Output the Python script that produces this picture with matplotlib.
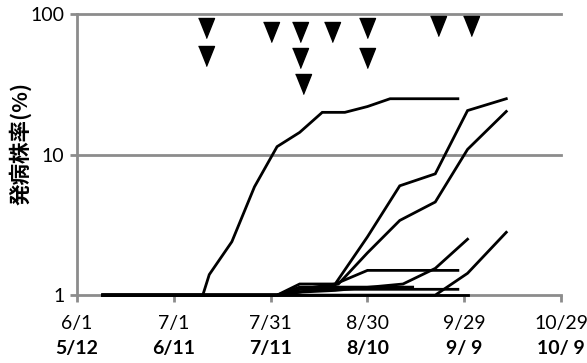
import matplotlib
matplotlib.use("Agg")
import matplotlib.pyplot as plt
from matplotlib.transforms import blended_transform_factory

plt.rcParams['font.family'] = ['Lato', 'Noto Sans CJK JP', 'DejaVu Sans']

# x positions in days since 6/1
tick_days = [0, 30, 60, 90, 120, 150]
tick_row1 = ["6/1", "7/1", "7/31", "8/30", "9/29", "10/29"]
tick_row2 = ["5/12", "6/11", "7/11", "8/10", "9/ 9", "10/ 9"]

# disease incidence series (days since 6/1, %)
line_a_days = [8, 39, 41, 48, 55, 62, 69, 76, 83, 90, 97, 118]
line_a_vals = [1, 1, 1.4, 2.4, 5.9, 11.4, 14.4, 20, 20, 22, 25, 25]
line_b_days = [8, 62, 69, 80, 90, 100, 111, 121, 133]
line_b_vals = [1, 1, 1.1, 1.2, 2.6, 6.0, 7.3, 20.6, 25]
line_c_days = [8, 62, 69, 81, 90, 100, 111, 121, 133]
line_c_vals = [1, 1, 1.05, 1.2, 2.0, 3.4, 4.6, 10.9, 20.3]
line_d_days = [8, 62, 69, 80, 90, 118]
line_d_vals = [1, 1, 1.2, 1.2, 1.5, 1.5]
line_e_days = [8, 62, 69, 80, 101, 111, 121]
line_e_vals = [1, 1, 1.05, 1.08, 1.2, 1.55, 2.5]
line_f_days = [8, 111, 121, 133]
line_f_vals = [1, 1, 1.43, 2.8]
line_g_days = [8, 62, 69, 104]
line_g_vals = [1, 1, 1.14, 1.14]
line_h_days = [8, 62, 69, 118]
line_h_vals = [1, 1, 1.1, 1.1]
line_i_days = [8, 121]
line_i_vals = [1, 1]

series = [
    (line_a_days, line_a_vals), (line_b_days, line_b_vals),
    (line_c_days, line_c_vals), (line_d_days, line_d_vals),
    (line_e_days, line_e_vals), (line_f_days, line_f_vals),
    (line_g_days, line_g_vals), (line_h_days, line_h_vals),
    (line_i_days, line_i_vals),
]

# triangle markers (days since 6/1, y position in %)
tri_days = [40, 40, 60, 69, 69, 70, 79, 90, 90, 112, 122]
tri_vals = [80, 50, 75, 75, 49, 31.6, 75, 80, 49, 82, 82]

fig = plt.figure(figsize=(5.87, 3.63), dpi=100)
ax = fig.add_axes([0.131, 0.187, 0.825, 0.774])

gray = "#8c8c8c"
ax.set_yscale("log")
ax.set_ylim(1, 100)
ax.set_xlim(0, 150)

for yv in [10, 100]:
    ax.axhline(yv, color=gray, lw=2.0, zorder=1, clip_on=False)

for d, v in series:
    ax.plot(d, v, color="black", lw=2.0, zorder=3, clip_on=False,
            solid_joinstyle="miter")

tri = [(-0.8, 1), (0.8, 1), (0, -1)]
ax.plot(tri_days, tri_vals, linestyle="none", marker=tri, markersize=14.4,
        color="black", zorder=4, clip_on=False)

for s in ["top", "right"]:
    ax.spines[s].set_visible(False)
for s in ["left", "bottom"]:
    ax.spines[s].set_color(gray)
    ax.spines[s].set_linewidth(2.0)
    ax.spines[s].set_zorder(2)

ax.set_yticks([1, 10, 100])
ax.set_yticklabels(["1", "10", "100"])
ax.yaxis.set_minor_locator(matplotlib.ticker.NullLocator())
ax.tick_params(axis="y", length=5, width=2, color=gray, pad=4, labelsize=14)

ax.set_xticks(tick_days)
ax.set_xticklabels([])
ax.tick_params(axis="x", length=5, width=2, color=gray)

trans = blended_transform_factory(ax.transData, ax.transAxes)
for d, r1, r2 in zip(tick_days, tick_row1, tick_row2):
    ax.text(d, -0.1, r1, transform=trans, ha="center", va="center", fontsize=14)
    ax.text(d, -0.19, r2, transform=trans, ha="center", va="center",
            fontsize=14, fontweight="bold")

ax.set_ylabel("発病株率(%)", family=["Noto Sans CJK JP", "DejaVu Sans"],
              fontweight="bold", fontsize=15.5)
ax.yaxis.set_label_coords(-0.093, 0.541)

fig.savefig("out.png", dpi=100)
